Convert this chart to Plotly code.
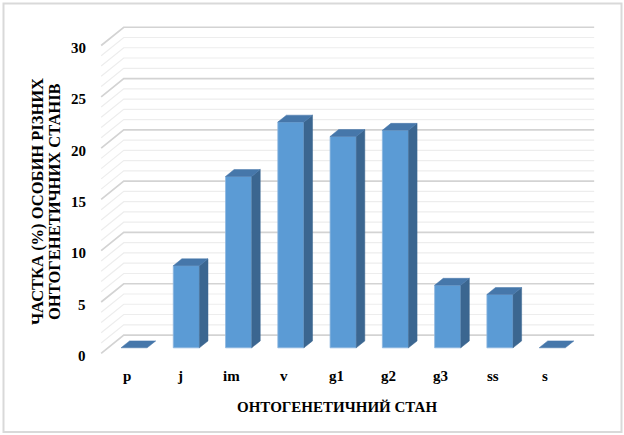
import plotly.graph_objects as go

# Ontogenetic stages and share of individuals (%)
stages = ["p", "j", "im", "v", "g1", "g2", "g3", "ss", "s"]
share = [0.0, 8.0, 16.7, 22.0, 20.6, 21.2, 6.1, 5.2, 0.0]
y_ticks = [0, 5, 10, 15, 20, 25, 30]
y_title_lines = ["ЧАСТКА (%) ОСОБИН РІЗНИХ", "ОНТОГЕНЕТИЧНИХ СТАНІВ"]
x_title = "ОНТОГЕНЕТИЧНИЙ СТАН"

# Oblique "3-D" projection: a point (category, value, depth) is shifted
# by depth * (DEPTH_X, DEPTH_Y) in data units; depth 0 = front, 1 = back wall.
DEPTH_X = 0.432
DEPTH_Y = 1.78
BAR_FRONT, BAR_BACK = 0.30, 0.68
BAR_W = 0.5
X_LO, X_HI = -0.5, len(stages) - 0.5
Y_MAX = 30

FRONT_C = "#5B9BD5"
SIDE_C = "#3B6690"
TOP_C = "#4677AA"
EDGE_C = "#8DB6E0"
GRID_MAJOR = "#D3D3D3"
GRID_MINOR = "#EDEDED"
FONT = "Liberation Serif, 'Times New Roman', Times, serif"
W, H = 624, 435
ML, MR, MT, MB = 60, 14, 15, 35


def proj(c, v, d):
    return c + d * DEPTH_X, v + d * DEPTH_Y


def bold(size):
    return dict(family=FONT, size=size, color="#000000", weight="bold")


fig = go.Figure()

# Wall gridlines: side-wall diagonal + back-wall horizontal for every unit
for major in (False, True):
    xs, ys = [], []
    for v in range(0, Y_MAX + 1):
        if (v % 5 == 0) != major:
            continue
        for c, d in ((X_LO, 0), (X_LO, 1), (X_HI, 1)):
            px, py = proj(c, v, d)
            xs.append(px)
            ys.append(py)
        xs.append(None)
        ys.append(None)
    fig.add_trace(go.Scatter(
        x=xs, y=ys, mode="lines",
        line=dict(color=GRID_MAJOR if major else GRID_MINOR,
                  width=1.7 if major else 1.2),
        hoverinfo="skip", showlegend=False))


def face(points, color, edge=None):
    xs = [p[0] for p in points] + [points[0][0]]
    ys = [p[1] for p in points] + [points[0][1]]
    fig.add_trace(go.Scatter(
        x=xs, y=ys, mode="lines", fill="toself", fillcolor=color,
        line=dict(color=edge or color, width=0.8 if edge else 0.5),
        hoverinfo="skip", showlegend=False))


# Columns: front face, right side face and top face
for i, v in enumerate(share):
    cl, cr = i - BAR_W / 2, i + BAR_W / 2
    top = [proj(cl, v, BAR_FRONT), proj(cr, v, BAR_FRONT),
           proj(cr, v, BAR_BACK), proj(cl, v, BAR_BACK)]
    if v > 0:
        face([proj(cl, 0, BAR_FRONT), proj(cr, 0, BAR_FRONT),
              proj(cr, v, BAR_FRONT), proj(cl, v, BAR_FRONT)], FRONT_C, EDGE_C)
        face([proj(cr, 0, BAR_FRONT), proj(cr, 0, BAR_BACK),
              proj(cr, v, BAR_BACK), proj(cr, v, BAR_FRONT)], SIDE_C)
    face(top, TOP_C)

# Value axis labels on the front edge of the side wall
for t in y_ticks:
    fig.add_annotation(x=X_LO - 0.25, y=t - 0.25, text=str(t), showarrow=False,
                       xanchor="right", yanchor="middle", font=bold(15))

# Category labels under the floor front edge
for i, s in enumerate(stages):
    fig.add_annotation(x=i, y=-2.25, text=s, showarrow=False,
                       xanchor="center", yanchor="middle", font=bold(15))

x0r = -1.2876
x1r = 9.2348
y0r = -4.5517
y1r = 32.973


def px_to_paper(px, py):
    return ((px - ML) / (W - ML - MR), (H - MB - py) / (H - MT - MB))


# Axis titles
tx, ty = px_to_paper(337, 407)
fig.add_annotation(xref="paper", yref="paper", x=tx, y=ty, text=x_title,
                   showarrow=False, xanchor="center", yanchor="middle",
                   font=bold(15))
for line, lx in zip(y_title_lines, (37, 54)):
    ax, ay = px_to_paper(lx, 202)
    fig.add_annotation(xref="paper", yref="paper", x=ax, y=ay, text=line,
                       textangle=-90, showarrow=False,
                       xanchor="center", yanchor="middle", font=bold(16.5))

# Chart frame
bx0, by0 = px_to_paper(3.5, 432)
bx1, by1 = px_to_paper(621.5, 3.5)
fig.add_shape(type="rect", xref="paper", yref="paper",
              x0=bx0, y0=by0, x1=bx1, y1=by1,
              line=dict(color="#D9D9D9", width=2))

fig.update_layout(
    width=W, height=H, autosize=False,
    margin=dict(l=ML, r=MR, t=MT, b=MB),
    paper_bgcolor="white", plot_bgcolor="white",
    showlegend=False,
    xaxis=dict(range=[x0r, x1r], visible=False, fixedrange=True),
    yaxis=dict(range=[y0r, y1r], visible=False, fixedrange=True),
)

fig.write_html("out.html")
